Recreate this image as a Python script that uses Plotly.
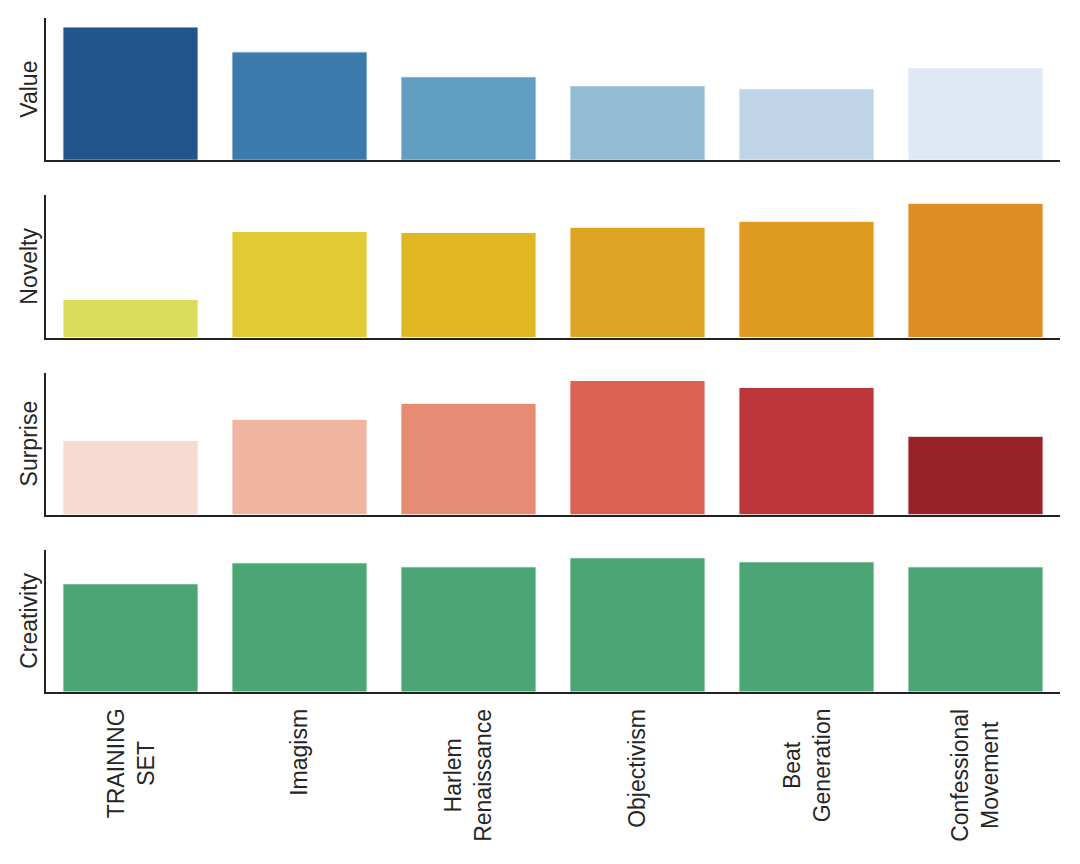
import plotly.graph_objects as go
from plotly.subplots import make_subplots

categories = ["TRAINING SET", "Imagism", "Harlem Renaissance", "Objectivism", "Beat Generation", "Confessional Movement"]
tick_labels = ["TRAINING<br>SET", "Imagism", "Harlem<br>Renaissance", "Objectivism", "Beat<br>Generation", "Confessional<br>Movement"]
value = [0.937, 0.762, 0.587, 0.524, 0.503, 0.650]
novelty = [0.268, 0.746, 0.739, 0.775, 0.817, 0.944]
surprise = [0.524, 0.671, 0.783, 0.944, 0.895, 0.552]
creativity = [0.761, 0.908, 0.880, 0.944, 0.915, 0.880]

metrics = ["Value", "Novelty", "Surprise", "Creativity"]
series = [value, novelty, surprise, creativity]
colors = [
    ["#21558c", "#3b7aab", "#629dc2", "#94bbd4", "#bfd5e7", "#dfe9f3"],
    ["#dcdc5c", "#e1ca33", "#e0b625", "#dea524", "#de9b20", "#de8c24"],
    ["#f7dbd0", "#f0b5a1", "#e68c74", "#dc6353", "#bd373a", "#97222a"],
    ["#4ca574"] * 6,
]
TXT = "#262626"
FS = 23

fig = make_subplots(rows=4, cols=1, shared_xaxes=True, vertical_spacing=35 / 674)
for i, (name, vals, cols) in enumerate(zip(metrics, series, colors), start=1):
    fig.add_trace(go.Bar(x=categories, y=vals, marker=dict(color=cols, line=dict(color="white", width=1)),
                         showlegend=False), row=i, col=1)
    fig.update_yaxes(row=i, col=1, range=[0, 1], showticklabels=False, ticks="", showgrid=False, zeroline=False,
                     showline=True, linecolor="#222222", linewidth=2, automargin=False,
                     title=dict(text=name, standoff=0, font=dict(size=FS, color=TXT)))
    fig.update_xaxes(row=i, col=1, range=[-0.5, 5.5], showgrid=False, zeroline=False, showline=True,
                     linecolor="#222222", linewidth=2, ticks="", showticklabels=False, automargin=False)

for cat, lab in zip(categories, tick_labels):
    fig.add_annotation(x=cat, y=-0.022, xref="x4", yref="paper", text=lab, textangle=-90,
                       showarrow=False, xanchor="center", yanchor="top", align="center",
                       font=dict(size=FS, color=TXT))

fig.update_layout(
    width=1064, height=848,
    margin=dict(l=38, r=12, t=10, b=164, autoexpand=False),
    bargap=0.2,
    plot_bgcolor="white", paper_bgcolor="white",
    font=dict(family="Liberation Sans, Arial, sans-serif", color=TXT),
)
fig.write_html("out.html")
